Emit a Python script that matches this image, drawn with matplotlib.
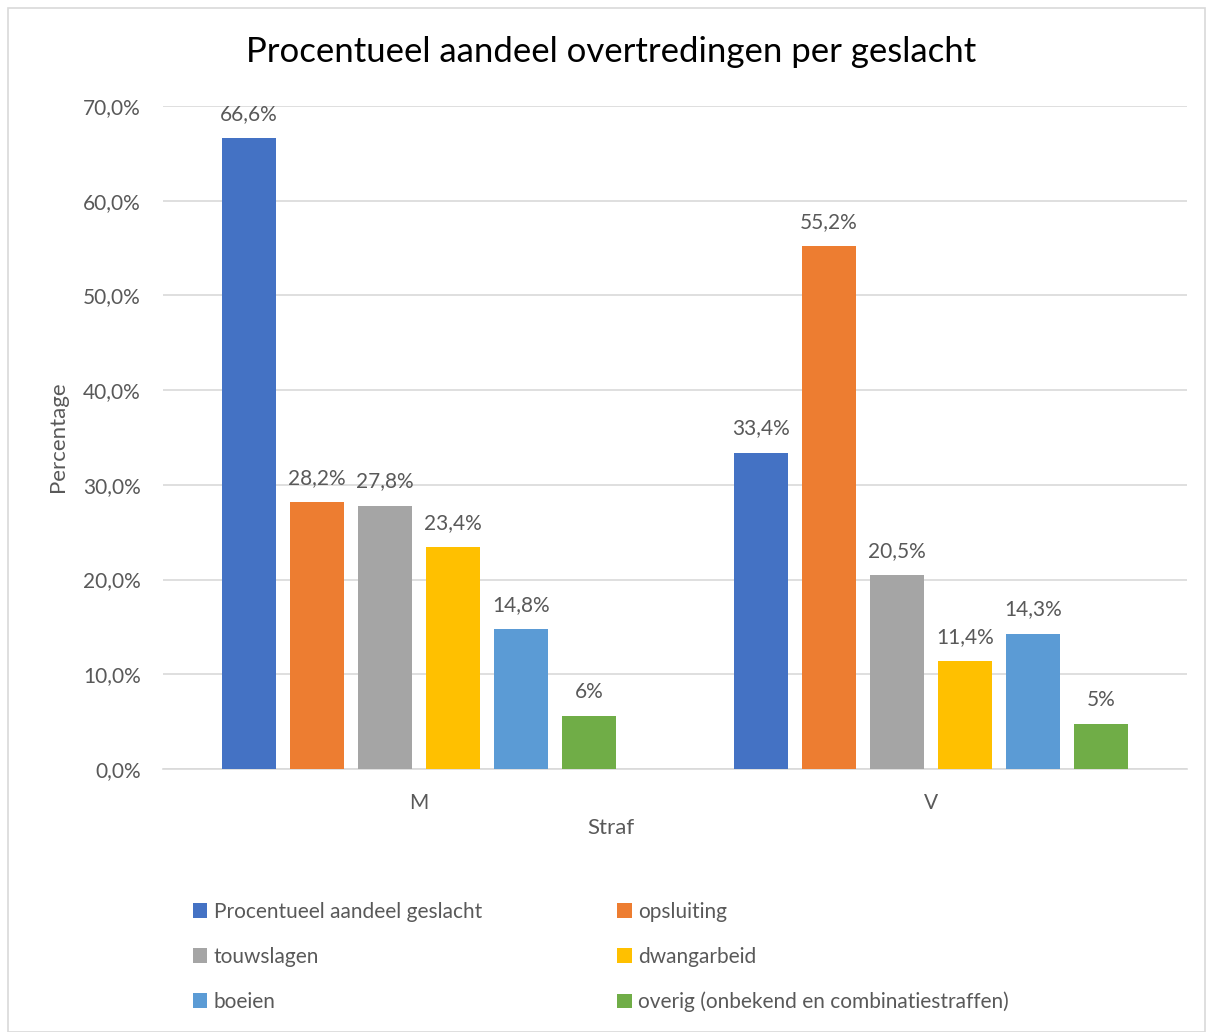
import numpy as np
import matplotlib.pyplot as plt
from matplotlib.patches import Rectangle
from matplotlib.ticker import FuncFormatter

# ── Data ──────────────────────────────────────────────────────────────
groups = ["M", "V"]
series = [
    "Procentueel aandeel geslacht",
    "opsluiting",
    "touwslagen",
    "dwangarbeid",
    "boeien",
    "overig (onbekend en combinatiestraffen)",
]
values_m = [66.6, 28.2, 27.8, 23.4, 14.8, 5.6]
values_v = [33.4, 55.2, 20.5, 11.4, 14.3, 4.7]
labels_m = ["66,6%", "28,2%", "27,8%", "23,4%", "14,8%", "6%"]
labels_v = ["33,4%", "55,2%", "20,5%", "11,4%", "14,3%", "5%"]
colors = ["#4472C4", "#ED7D31", "#A5A5A5", "#FFC000", "#5B9BD5", "#70AD47"]

plt.rcParams["font.family"] = ["Lato", "DejaVu Sans"]
TXT = "#595959"

fig = plt.figure(figsize=(12.13, 10.32), dpi=100)
W, H = 1213, 1032
ax = fig.add_axes([163 / W, 1 - 769 / H, (1187 - 163) / W, (769 - 106) / H])

x = np.arange(len(groups))
pitch = 0.133
width = 0.105
for i, (name, col) in enumerate(zip(series, colors)):
    vals = [values_m[i], values_v[i]]
    labs = [labels_m[i], labels_v[i]]
    pos = x + (i - 2.5) * pitch
    ax.bar(pos, vals, width=width, color=col, label=name, zorder=3)
    for px, v, lab in zip(pos, vals, labs):
        ax.text(px, v + 1.5, lab, ha="center", va="bottom", fontsize=15, color=TXT)

ax.set_xlim(-0.5, 1.5)
ax.set_ylim(0, 70)
ax.set_yticks(np.arange(0, 71, 10))
ax.yaxis.set_major_formatter(FuncFormatter(lambda v, p: f"{v:.1f}%".replace(".", ",")))
ax.set_xticks(x)
ax.set_xticklabels(groups)
ax.tick_params(axis="both", length=0, labelsize=15, labelcolor=TXT)
ax.tick_params(axis="y", pad=16)
ax.tick_params(axis="x", pad=17)
ax.grid(axis="y", color="#D9D9D9", linewidth=1.2, zorder=0)
for s in ["top", "right", "left"]:
    ax.spines[s].set_visible(False)
ax.spines["bottom"].set_color("#D9D9D9")
ax.spines["bottom"].set_linewidth(1.2)

ax.set_ylabel("Percentage", fontsize=16, color=TXT)
ax.yaxis.set_label_coords((58 - 163) / (1187 - 163), (769 - 437) / (769 - 106))
ax.yaxis.label.set_va("center")
fig.text(611 / W, 1 - 828 / H, "Straf", ha="center", va="center", fontsize=16, color=TXT)

fig.text(611 / W, 1 - 52 / H, "Procentueel aandeel overtredingen per geslacht",
         ha="center", va="center", fontsize=25, color="black")

handles, labels = ax.get_legend_handles_labels()
order = [0, 2, 4, 1, 3, 5]
leg = fig.legend([handles[k] for k in order], [labels[k] for k in order],
                 ncol=2, loc="upper left", bbox_to_anchor=(174 / W, 1 - 883 / H),
                 frameon=False, fontsize=15, handlelength=0.7, handleheight=0.7,
                 handletextpad=0.3, columnspacing=6.5, labelspacing=1.2,
                 labelcolor=TXT)

# chart frame
fig.patches.append(Rectangle((8 / W, 0), 1 - 16 / W, 1 - 8 / H, transform=fig.transFigure,
                             fill=False, edgecolor="#D9D9D9", linewidth=1.2))

fig.savefig("out.png", dpi=100)
